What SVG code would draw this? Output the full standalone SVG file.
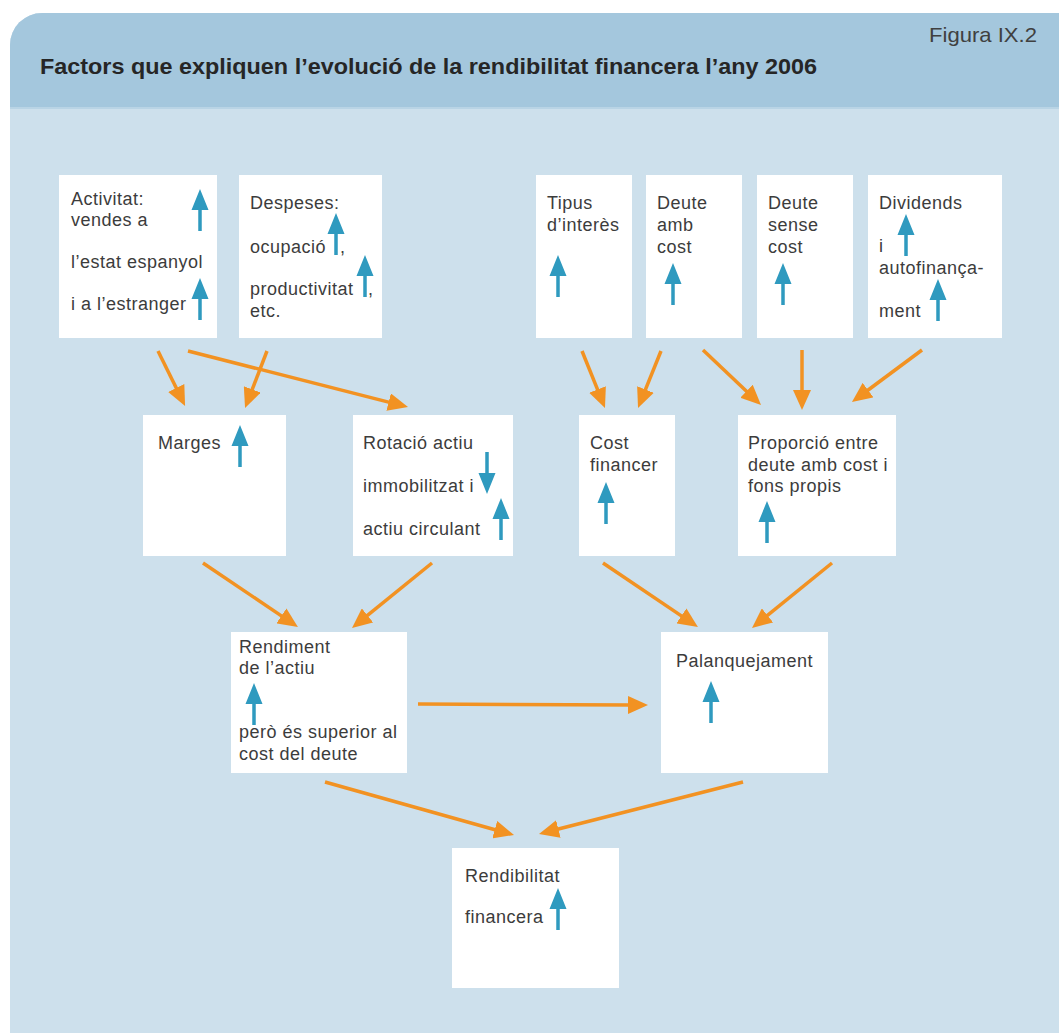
<svg xmlns="http://www.w3.org/2000/svg" xmlns:xlink="http://www.w3.org/1999/xlink" width="1059" height="1033" viewBox="0 0 1059 1033">
<style>
.box{fill:#ffffff}
.t{font-family:"Liberation Sans",Arial,sans-serif;font-size:18px;letter-spacing:0.5px;fill:#3c3c3c}
.conn{stroke:#f29222;stroke-width:3.5;fill:none;marker-end:url(#oh)}
.ba{fill:#2f9abf}
</style>
<defs>
<marker id="oh" markerUnits="userSpaceOnUse" markerWidth="20" markerHeight="18" viewBox="0 0 20 18" refX="4" refY="9" orient="auto">
<path d="M0,0 L20,9 L0,18 Z" fill="#f29222"/>
</marker>
<path id="ua" d="M0,0 L8.5,21 L-8.5,21 Z M-1.75,20 H1.75 V42 H-1.75 Z"/>
</defs>
<rect x="0" y="0" width="1059" height="1033" fill="#ffffff"/>
<path d="M10,1033 V45 A32,32 0 0 1 42,13 H1059 V1033 Z" fill="#cde0ec"/>
<path d="M10,107 V45 A32,32 0 0 1 42,13 H1059 V107 Z" fill="#a4c7dd"/>
<rect x="10" y="107" width="1049" height="2" fill="#b9d4e5"/>
<text x="40" y="74" font-family="Liberation Sans,Arial,sans-serif" font-size="21.5" font-weight="bold" fill="#262626" textLength="777" lengthAdjust="spacingAndGlyphs">Factors que expliquen l’evolució de la rendibilitat financera l’any 2006</text>
<text x="1037" y="42" text-anchor="end" font-family="Liberation Sans,Arial,sans-serif" font-size="21" fill="#404040" textLength="108" lengthAdjust="spacingAndGlyphs">Figura IX.2</text>

<g id="connectors">
<line class="conn" x1="158" y1="351" x2="178" y2="391.6"/>
<line class="conn" x1="267" y1="351" x2="250.8" y2="393.1"/>
<line class="conn" x1="188" y1="351" x2="392.5" y2="403.1"/>
<line class="conn" x1="582" y1="351" x2="599" y2="393.2"/>
<line class="conn" x1="661" y1="351" x2="644" y2="393.2"/>
<line class="conn" x1="703" y1="350" x2="749.4" y2="394"/>
<line class="conn" x1="802" y1="350" x2="802" y2="394"/>
<line class="conn" x1="922" y1="350" x2="864.8" y2="392.5"/>
<line class="conn" x1="203" y1="563" x2="284.7" y2="618.1"/>
<line class="conn" x1="432" y1="563" x2="364.4" y2="617.9"/>
<line class="conn" x1="603" y1="563" x2="684.7" y2="618.1"/>
<line class="conn" x1="832" y1="563" x2="764.4" y2="617.9"/>
<line class="conn" x1="418" y1="704" x2="632" y2="705"/>
<line class="conn" x1="325" y1="782" x2="498.6" y2="830.7"/>
<line class="conn" x1="743" y1="782" x2="554.5" y2="830"/>
</g>

<g id="activitat">
<rect class="box" x="59" y="175" width="158" height="163"/>
<text class="t" x="71" y="205">Activitat:</text>
<text class="t" x="71" y="226">vendes a</text>
<text class="t" x="71" y="268">l’estat espanyol</text>
<text class="t" x="71" y="310">i a l’estranger</text>
<use href="#ua" class="ba" transform="translate(200,189)"/>
<use href="#ua" class="ba" transform="translate(200,278)"/>
</g>

<g id="despeses">
<rect class="box" x="239" y="175" width="143" height="163"/>
<text class="t" x="250" y="209">Despeses:</text>
<text class="t" x="250" y="253">ocupació</text>
<text class="t" x="340" y="253">,</text>
<text class="t" x="250" y="295">productivitat</text>
<text class="t" x="368" y="295">,</text>
<text class="t" x="250" y="317">etc.</text>
<use href="#ua" class="ba" transform="translate(336,213)"/>
<use href="#ua" class="ba" transform="translate(365,255)"/>
</g>

<g id="tipus">
<rect class="box" x="536" y="175" width="96" height="163"/>
<text class="t" x="547" y="209">Tipus</text>
<text class="t" x="547" y="231">d’interès</text>
<use href="#ua" class="ba" transform="translate(558,255)"/>
</g>

<g id="deute-amb-cost">
<rect class="box" x="646" y="175" width="96" height="163"/>
<text class="t" x="657" y="209">Deute</text>
<text class="t" x="657" y="231">amb</text>
<text class="t" x="657" y="253">cost</text>
<use href="#ua" class="ba" transform="translate(673,263)"/>
</g>

<g id="deute-sense-cost">
<rect class="box" x="757" y="175" width="96" height="163"/>
<text class="t" x="768" y="209">Deute</text>
<text class="t" x="768" y="231">sense</text>
<text class="t" x="768" y="253">cost</text>
<use href="#ua" class="ba" transform="translate(783,263)"/>
</g>

<g id="dividends">
<rect class="box" x="868" y="175" width="134" height="163"/>
<text class="t" x="879" y="209">Dividends</text>
<text class="t" x="879" y="252">i</text>
<text class="t" x="879" y="274">autofinança-</text>
<text class="t" x="879" y="317">ment</text>
<use href="#ua" class="ba" transform="translate(906,214)"/>
<use href="#ua" class="ba" transform="translate(938,279)"/>
</g>

<g id="marges">
<rect class="box" x="143" y="415" width="143" height="141"/>
<text class="t" x="158" y="449">Marges</text>
<use href="#ua" class="ba" transform="translate(240,425)"/>
</g>

<g id="rotacio">
<rect class="box" x="353" y="415" width="160" height="141"/>
<text class="t" x="363" y="449">Rotació actiu</text>
<text class="t" x="363" y="492">immobilitzat i</text>
<text class="t" x="363" y="535">actiu circulant</text>
<use href="#ua" class="ba" transform="translate(487,494) scale(1,-1)"/>
<use href="#ua" class="ba" transform="translate(501,498)"/>
</g>

<g id="cost-financer">
<rect class="box" x="579" y="415" width="96" height="141"/>
<text class="t" x="590" y="449">Cost</text>
<text class="t" x="590" y="471">financer</text>
<use href="#ua" class="ba" transform="translate(606,482)"/>
</g>

<g id="proporcio">
<rect class="box" x="738" y="415" width="158" height="141"/>
<text class="t" x="748" y="449">Proporció entre</text>
<text class="t" x="748" y="471">deute amb cost i</text>
<text class="t" x="748" y="492">fons propis</text>
<use href="#ua" class="ba" transform="translate(767,501)"/>
</g>

<g id="rendiment">
<rect class="box" x="231" y="632" width="176" height="141"/>
<text class="t" x="239" y="653">Rendiment</text>
<text class="t" x="239" y="674">de l’actiu</text>
<text class="t" x="239" y="738">però és superior al</text>
<text class="t" x="239" y="760">cost del deute</text>
<use href="#ua" class="ba" transform="translate(254,683)"/>
</g>

<g id="palanquejament">
<rect class="box" x="661" y="632" width="167" height="141"/>
<text class="t" x="676" y="667">Palanquejament</text>
<use href="#ua" class="ba" transform="translate(711,681)"/>
</g>

<g id="rendibilitat">
<rect class="box" x="452" y="848" width="167" height="140"/>
<text class="t" x="465" y="882">Rendibilitat</text>
<text class="t" x="465" y="923">financera</text>
<use href="#ua" class="ba" transform="translate(558,888)"/>
</g>
</svg>
